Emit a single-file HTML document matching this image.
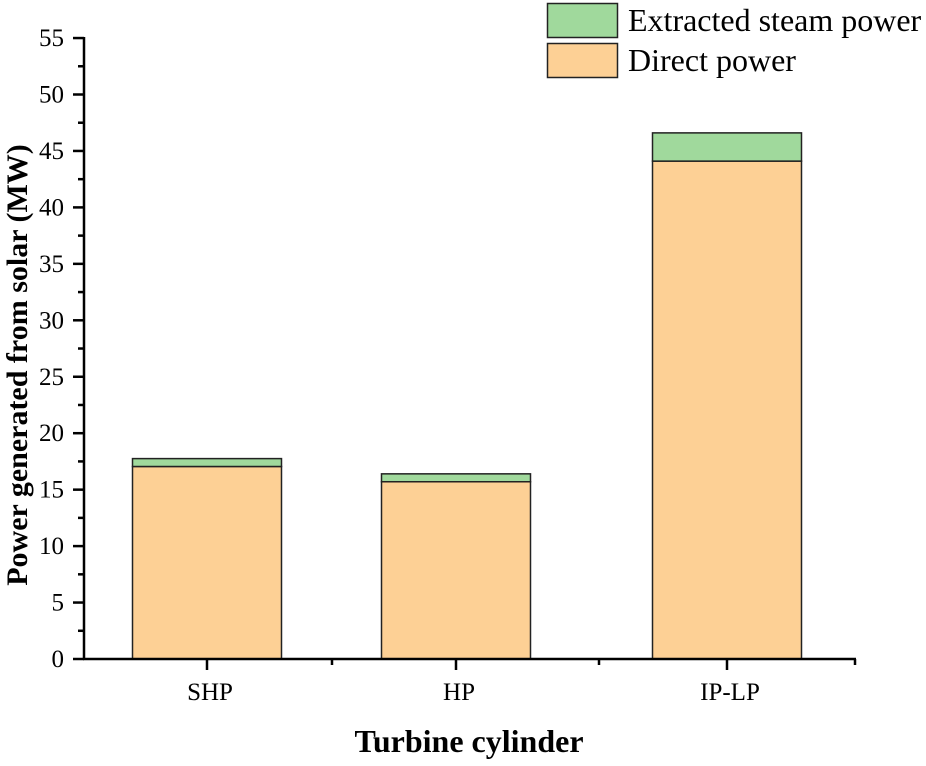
<!DOCTYPE html>
<html><head><meta charset="utf-8"><style>
body{margin:0;background:#fff}
svg text{font-family:"Liberation Serif",serif;fill:#000}
</style></head><body>
<svg id="chart" width="926" height="761" viewBox="0 0 926 761" xmlns="http://www.w3.org/2000/svg">
<g id="plot"></g>
<g>
<g>
<rect x="547.5" y="3.5" width="70" height="34" fill="#a0d99c" stroke="#222" stroke-width="1.5"/>
<text x="628" y="31" font-size="32">Extracted steam power</text></g>
<g>
<rect x="547.5" y="43.5" width="70" height="34" fill="#fdd095" stroke="#222" stroke-width="1.5"/>
<text x="628" y="71" font-size="32">Direct power</text></g>
</g>
<text transform="translate(27,365) rotate(-90)" text-anchor="middle" font-size="30" font-weight="bold">Power generated from solar (MW)</text>
<text x="469" y="752" text-anchor="middle" font-size="32" font-weight="bold">Turbine cylinder</text>
</svg>
<script>
const categories = ["SHP", "HP", "IP-LP"];
const directPower = [17.05, 15.7, 44.1];
const extractedPower = [0.7, 0.7, 2.5];
const yTicks = [0,5,10,15,20,25,30,35,40,45,50,55];

const NS = "http://www.w3.org/2000/svg";
const plot = document.getElementById('plot');
const y0 = 659, pxPerUnit = 11.29;
const yScale = v => y0 - v * pxPerUnit;
const centers = [207, 456, 727];
const barW = 149;
function mk(tag, attrs){const e=document.createElementNS(NS,tag);for(const k in attrs)e.setAttribute(k,attrs[k]);plot.appendChild(e);return e;}

categories.forEach((c,i)=>{
  const x = centers[i]-barW/2;
  const d = mk('rect',{x:x,y:yScale(directPower[i]),width:barW,height:yScale(0)-yScale(directPower[i]),fill:'#fdd095',stroke:'#222','stroke-width':1.5});
  
  
  const tot = directPower[i]+extractedPower[i];
  const e = mk('rect',{x:x,y:yScale(tot),width:barW,height:yScale(directPower[i])-yScale(tot),fill:'#a0d99c',stroke:'#222','stroke-width':1.5});
  
  
  const t = mk('line',{x1:centers[i],x2:centers[i],y1:y0,y2:y0+11,stroke:'#000','stroke-width':2.5});
  
  
  const l = mk('text',{x:centers[i]+3,y:700,'text-anchor':'middle','font-size':25});
  l.textContent = c;
  
  
});
[332,599,855].forEach(x=>{
  const t = mk('line',{x1:x,x2:x,y1:y0,y2:y0+6,stroke:'#000','stroke-width':2.5});
  
  
});
yTicks.forEach(v=>{
  const y=yScale(v);
  const t = mk('line',{x1:73,x2:84,y1:y,y2:y,stroke:'#000','stroke-width':2.5});
  
  
  const l = mk('text',{x:64,y:y+8,'text-anchor':'end','font-size':25});
  l.textContent = v;
  
  
  if(v<55){
    const m = mk('line',{x1:78,x2:84,y1:yScale(v+2.5),y2:yScale(v+2.5),stroke:'#000','stroke-width':2.5});
    
    
  }
});
const ya = mk('line',{x1:84,x2:84,y1:yScale(55)-1,y2:y0+1,stroke:'#000','stroke-width':2.5});


const xa = mk('line',{x1:83,x2:856,y1:y0,y2:y0,stroke:'#000','stroke-width':2.5});


</script>
</body></html>
